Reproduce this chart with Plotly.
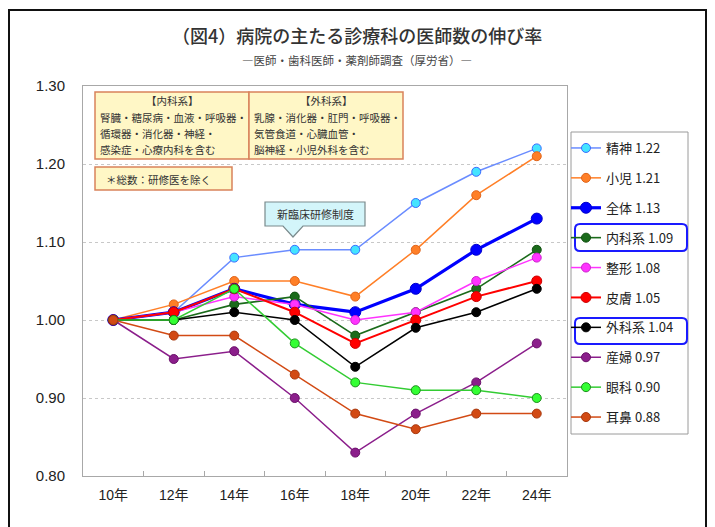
import plotly.graph_objects as go

# ---------------- data ----------------
years = ["10年", "12年", "14年", "16年", "18年", "20年", "22年", "24年"]
names = ["精神", "小児", "全体", "内科系", "整形", "皮膚", "外科系", "産婦", "眼科", "耳鼻"]
seishin = [1.00, 1.01, 1.08, 1.09, 1.09, 1.15, 1.19, 1.22]
shoni = [1.00, 1.02, 1.05, 1.05, 1.03, 1.09, 1.16, 1.21]
zentai = [1.00, 1.01, 1.04, 1.02, 1.01, 1.04, 1.09, 1.13]
naika = [1.00, 1.00, 1.02, 1.03, 0.98, 1.01, 1.04, 1.09]
seikei = [1.00, 1.01, 1.03, 1.02, 1.00, 1.01, 1.05, 1.08]
hifu = [1.00, 1.01, 1.04, 1.01, 0.97, 1.00, 1.03, 1.05]
geka = [1.00, 1.00, 1.01, 1.00, 0.94, 0.99, 1.01, 1.04]
sanpu = [1.00, 0.95, 0.96, 0.90, 0.83, 0.88, 0.92, 0.97]
ganka = [1.00, 1.00, 1.04, 0.97, 0.92, 0.91, 0.91, 0.90]
jibi = [1.00, 0.98, 0.98, 0.93, 0.88, 0.86, 0.88, 0.88]
series = [seishin, shoni, zentai, naika, seikei, hifu, geka, sanpu, ganka, jibi]
y_ticks = [0.80, 0.90, 1.00, 1.10, 1.20, 1.30]

title_text = "（図4）病院の主たる診療科の医師数の伸び率"
subtitle_text = "―医師・歯科医師・薬剤師調査（厚労省）―"
naika_lines = ["【内科系】", "腎臓・糖尿病・血液・呼吸器・", "循環器・消化器・神経・", "感染症・心療内科を含む"]
geka_lines = ["【外科系】", "乳腺・消化器・肛門・呼吸器・", "気管食道・心臓血管・", "脳神経・小児外科を含む"]
note_text = "＊総数：研修医を除く"
callout_text = "新臨床研修制度"

# ---------------- styles ----------------
styles = [
    dict(line="#6A8CFF", fill="#44E4FF", edge="#3A6BFF", width=1.5, size=9),
    dict(line="#FF7F27", fill="#FF7F27", edge="#E0641A", width=1.5, size=9),
    dict(line="#0000FF", fill="#0000FF", edge="#0000CC", width=3.2, size=11),
    dict(line="#1B6B1B", fill="#1B6B1B", edge="#0F4F0F", width=1.6, size=9),
    dict(line="#FF33FF", fill="#FF33FF", edge="#CC22CC", width=1.5, size=9),
    dict(line="#FF0000", fill="#FF0000", edge="#CC0000", width=2.0, size=10),
    dict(line="#000000", fill="#000000", edge="#000000", width=1.5, size=9),
    dict(line="#8B1E8B", fill="#8B1E8B", edge="#6A106A", width=1.5, size=9),
    dict(line="#33CC33", fill="#33FF33", edge="#1E8F1E", width=1.5, size=9),
    dict(line="#D24A14", fill="#D24A14", edge="#A83A10", width=1.5, size=9),
]

W, H = 715, 527
L, R, T, B = 83, 567, 86, 476   # plot area in pixels


def px(x):
    return (x - L) / (R - L)


def py(y):
    return (B - y) / (B - T)


FONT = "Liberation Sans, Arial, Noto Sans CJK JP, sans-serif"
JFONT = "Noto Sans CJK JP, sans-serif"

fig = go.Figure()
for i, (nm, vals) in enumerate(zip(names, series)):
    st = styles[i]
    fig.add_trace(go.Scatter(
        x=years, y=vals, mode="lines+markers",
        name=f"{nm} {vals[-1]:.2f}",
        legendgroup=f"g{i}",
        line=dict(color=st["line"], width=st["width"]),
        marker=dict(color=st["fill"], size=st["size"],
                    line=dict(color=st["edge"], width=1)),
    ))

shapes = []
annotations = []

# outer frame
shapes.append(dict(type="rect", xref="paper", yref="paper",
                   x0=px(9), x1=px(706), y0=py(540), y1=py(10),
                   line=dict(color="#111111", width=2), layer="below"))

# legend background + border (drawn as shape so highlight boxes can sit over it)
shapes.append(dict(type="rect", xref="paper", yref="paper",
                   x0=px(571), x1=px(688), y0=py(434), y1=py(132),
                   fillcolor="white", line=dict(color="#9A9A9A", width=1), layer="above"))

# info boxes
BOX_FILL = "#FFF7C6"
BOX_EDGE = "#D9825B"
for x0, x1 in [(95, 249), (249, 403)]:
    shapes.append(dict(type="rect", xref="paper", yref="paper",
                       x0=px(x0), x1=px(x1), y0=py(159), y1=py(92),
                       fillcolor=BOX_FILL, line=dict(color=BOX_EDGE, width=1.5)))
shapes.append(dict(type="rect", xref="paper", yref="paper",
                   x0=px(95), x1=px(232), y0=py(190), y1=py(167),
                   fillcolor=BOX_FILL, line=dict(color=BOX_EDGE, width=1.5)))

line_y = [100, 117, 133, 149]
for lines, xc, xl in [(naika_lines, 172, 98), (geka_lines, 326, 252)]:
    for j, t in enumerate(lines):
        if j == 0:
            annotations.append(dict(xref="paper", yref="paper", x=px(xc), y=py(line_y[j]),
                                    text=t, showarrow=False, xanchor="center", yanchor="middle",
                                    font=dict(family=JFONT, size=10.5, color="#333333")))
        else:
            annotations.append(dict(xref="paper", yref="paper", x=px(xl), y=py(line_y[j]),
                                    text=t, showarrow=False, xanchor="left", yanchor="middle",
                                    font=dict(family=JFONT, size=10.5, color="#333333")))
annotations.append(dict(xref="paper", yref="paper", x=px(104), y=py(179),
                        text=note_text, showarrow=False, xanchor="left", yanchor="middle",
                        font=dict(family=JFONT, size=10.5, color="#333333")))

# callout
def P(x, y):
    return f"{px(x):.5f},{py(y):.5f}"

path = ("M " + P(265, 202) + " L " + P(365, 202) + " L " + P(365, 226) + " L " + P(303, 226)
        + " L " + P(293, 237) + " L " + P(283, 226) + " L " + P(265, 226) + " Z")
shapes.append(dict(type="path", xref="paper", yref="paper", path=path,
                   fillcolor="#D3F5FA", line=dict(color="#7A8A8C", width=1.2)))
annotations.append(dict(xref="paper", yref="paper", x=px(315), y=py(214),
                        text=callout_text, showarrow=False, xanchor="center", yanchor="middle",
                        font=dict(family=JFONT, size=11, color="#333333")))

# highlight boxes in legend
def rrect(x0, y0, x1, y1, r):
    return ("M " + P(x0 + r, y0) + " L " + P(x1 - r, y0) + " Q " + P(x1, y0) + " " + P(x1, y0 + r)
            + " L " + P(x1, y1 - r) + " Q " + P(x1, y1) + " " + P(x1 - r, y1)
            + " L " + P(x0 + r, y1) + " Q " + P(x0, y1) + " " + P(x0, y1 - r)
            + " L " + P(x0, y0 + r) + " Q " + P(x0, y0) + " " + P(x0 + r, y0) + " Z")

for y0, y1 in [(224, 251), (318, 344)]:
    shapes.append(dict(type="path", xref="paper", yref="paper", path=rrect(575, y0, 687, y1, 5),
                       line=dict(color="#1A1AFF", width=2), layer="above"))

# title
annotations.append(dict(xref="paper", yref="paper", x=px(357), y=py(35), text=title_text,
                        showarrow=False, xanchor="center", yanchor="middle",
                        font=dict(family=JFONT, size=18, color="#333333", weight=500)))
annotations.append(dict(xref="paper", yref="paper", x=px(357), y=py(60), text=subtitle_text,
                        showarrow=False, xanchor="center", yanchor="middle",
                        font=dict(family=JFONT, size=11.5, color="#444444")))

fig.update_layout(
    width=W, height=H,
    margin=dict(l=L, r=W - R, t=T, b=H - B),
    paper_bgcolor="white", plot_bgcolor="white",
    showlegend=True,
    legend=dict(x=px(566), y=py(133), xanchor="left", yanchor="top",
                bgcolor="rgba(0,0,0,0)", borderwidth=0,
                tracegroupgap=10, traceorder="grouped",
                font=dict(family=JFONT, size=13, color="#222222")),
    shapes=shapes, annotations=annotations,
    xaxis=dict(type="category", range=[-0.5, 7.5], showline=True, mirror=True,
               linecolor="#A8A8A8", linewidth=1, showgrid=False,
               ticks="inside", tickson="boundaries", ticklen=5, tickcolor="#A8A8A8",
               tickfont=dict(family=FONT, size=14, color="#222222"),
               ticklabelstandoff=6, fixedrange=True),
    yaxis=dict(range=[0.80, 1.30], tickvals=y_ticks, tickformat=".2f",
               showline=True, mirror=True, linecolor="#A8A8A8", linewidth=1,
               showgrid=True, gridcolor="#C8C8C8", griddash="dot", gridwidth=1,
               zeroline=False, ticks="",
               tickfont=dict(family=FONT, size=15, color="#222222"),
               ticklabelstandoff=14, fixedrange=True),
)

fig.write_html("out.html")
